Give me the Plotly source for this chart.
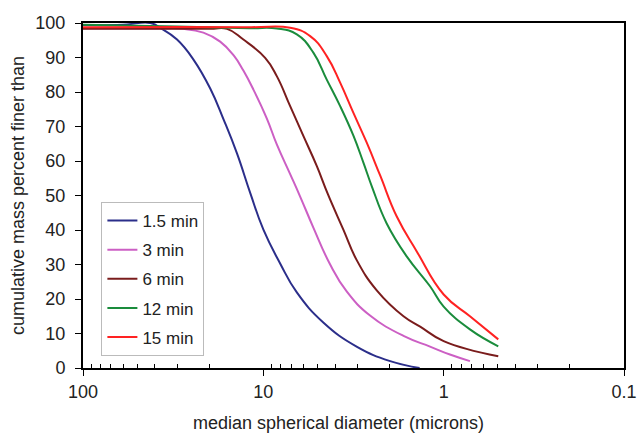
import plotly.graph_objects as go

# ---- data (diameter in microns, cumulative mass %) ----
series_names = ["1.5 min", "3 min", "6 min", "12 min", "15 min"]

x_15 = [100, 60, 42.4, 37.3, 30.1, 24.4, 19.7, 16.6, 14.0, 11.8, 9.99, 8.07, 6.52, 4.65, 3.04, 1.98, 1.36]
y_15 = [99.4, 99.5, 100.0, 98.6, 95.2, 89.4, 81.0, 72.0, 62.2, 50.6, 40.1, 30.3, 21.9, 13.2, 6.2, 2.0, 0.0]

x_3 = [100, 40, 27.7, 21.5, 17.35, 14.6, 12.9, 11.35, 9.56, 8.42, 7.10, 6.25, 5.28, 4.26, 3.45, 2.56, 1.67, 1.19, 0.923, 0.715]
y_3 = [98.5, 98.4, 98.3, 97.2, 94.6, 90.6, 86.2, 80.7, 72.3, 64.8, 56.2, 49.7, 40.7, 30.0, 22.2, 15.2, 9.3, 6.2, 3.9, 2.0]

x_6 = [100, 20, 15.9, 12.9, 9.77, 8.42, 7.10, 5.99, 5.05, 4.38, 3.60, 3.03, 2.35, 1.67, 1.35, 1.0, 0.498]
y_6 = [98.3, 98.3, 98.3, 95.2, 89.9, 84.6, 75.9, 67.2, 58.5, 50.3, 40.1, 31.2, 22.5, 15.0, 12.0, 7.8, 3.4]

x_12 = [100, 30, 12, 8.42, 6.52, 5.28, 4.45, 3.75, 3.17, 2.79, 2.50, 2.07, 1.60, 1.19, 1.0, 0.715, 0.498]
y_12 = [99.5, 99.0, 98.5, 98.4, 96.7, 91.4, 83.6, 75.9, 67.4, 59.6, 52.6, 41.9, 32.3, 23.7, 17.8, 11.2, 6.3]

x_15m = [100, 12, 7.10, 5.50, 4.45, 3.75, 3.17, 2.67, 2.25, 1.82, 1.41, 1.0, 0.715, 0.498]
y_15m = [98.8, 98.8, 98.6, 96.2, 90.4, 82.7, 74.0, 65.3, 55.8, 43.9, 33.8, 21.3, 15.0, 8.3]

colors = ["#2b2e8a", "#cc5fc4", "#7a1c1c", "#1a8c3c", "#ff2222"]

x_tick_vals = [100, 10, 1, 0.1]
x_tick_text = ["100", "10", "1", "0.1"]
x_minor_vals = [m * d for d in (0.1, 1, 10) for m in range(2, 10)]

x_title = "median spherical diameter (microns)"
y_title = "cumulative mass percent finer than"

FONT = "Liberation Sans, Arial, sans-serif"

fig = go.Figure()
all_x = [x_15, x_3, x_6, x_12, x_15m]
all_y = [y_15, y_3, y_6, y_12, y_15m]
for name, xs, ys, c in zip(series_names, all_x, all_y, colors):
    fig.add_trace(go.Scatter(
        x=xs, y=ys, mode="lines", name=name, legendgroup=name,
        line=dict(color=c, width=2, shape="spline", smoothing=1.3),
    ))

fig.update_layout(
    width=639, height=434,
    margin=dict(l=83, r=15, t=23, b=66, autoexpand=False),
    paper_bgcolor="white", plot_bgcolor="white",
    font=dict(family=FONT, size=18, color="#222"),
    showlegend=True,
    legend=dict(
        x=0.034, y=0.481, xanchor="left", yanchor="top",
        bgcolor="white", bordercolor="#bbbbbb", borderwidth=1,
        font=dict(family=FONT, size=17, color="#222"),
        tracegroupgap=4, itemwidth=30,
    ),
    annotations=[dict(
        text=x_title, xref="paper", yref="paper", x=0.4717, y=-0.1605,
        xanchor="center", yanchor="middle", showarrow=False,
        font=dict(family=FONT, size=18, color="#222"),
    )],
)

fig.update_xaxes(
    type="log", range=[2, -1],
    tickmode="array", tickvals=x_tick_vals, ticktext=x_tick_text,
    ticks="outside", ticklen=6, tickwidth=1, tickcolor="black",
    minor=dict(tickmode="array", tickvals=x_minor_vals, ticks="inside",
               ticklen=4, tickwidth=1, tickcolor="black", showgrid=False),
    showgrid=False, zeroline=False,
    showline=True, linecolor="black", linewidth=2, mirror=True,
    tickfont=dict(size=18),
)
fig.update_yaxes(
    range=[0, 100], dtick=10, tick0=0,
    ticks="outside", ticklen=6, tickwidth=1, tickcolor="black",
    ticklabelstandoff=6,
    showgrid=False, zeroline=False,
    showline=True, linecolor="black", linewidth=2, mirror=True,
    title=dict(text=y_title, standoff=6, font=dict(size=18)),
    tickfont=dict(size=18),
)

fig.write_html("out.html")
